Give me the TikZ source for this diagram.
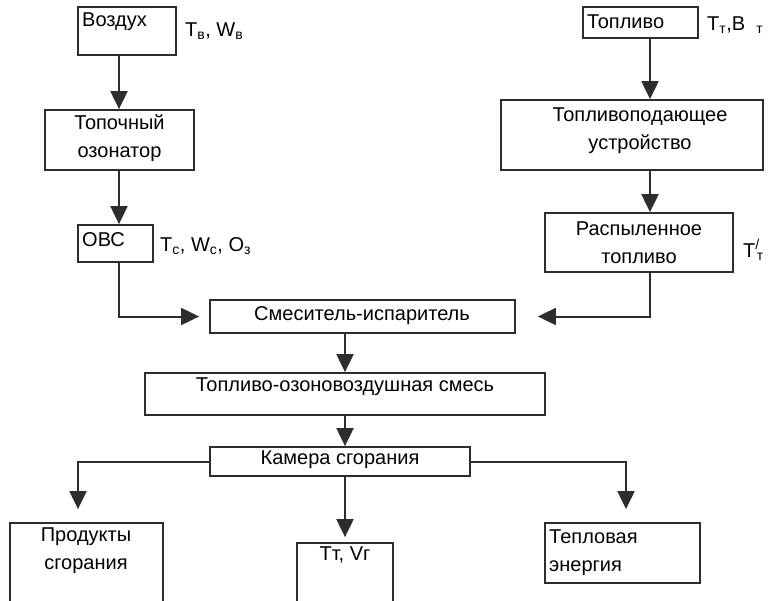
\documentclass[tikz,border=0pt]{standalone}
\usepackage{fontspec}
\setmainfont{Liberation Sans}
\usetikzlibrary{arrows.meta}
\definecolor{ln}{RGB}{45,45,45}
\begin{document}
\begin{tikzpicture}[x=1pt,y=-1pt,
 box/.style={draw=ln, line width=1.8pt, fill=white, inner sep=0pt},
 con/.style={draw=ln, line width=2pt},
 arr/.style={con, -{Triangle[length=18pt,width=17pt]}},
 txt/.style={font=\fontsize{20}{28}\selectfont, text=black, inner sep=0pt, align=center},
 txtl/.style={txt, align=left, anchor=west},
]
\useasboundingbox[fill=white] (0,0) rectangle (768,600);

% boxes
\node[box, minimum width=98pt,  minimum height=48pt] (vozd)   at (127,31) {};
\node[box, minimum width=115pt, minimum height=31pt] (topl)   at (640.5,22.5) {};
\node[box, minimum width=149pt, minimum height=60pt] (ozon)   at (119.5,140) {};
\node[box, minimum width=262pt, minimum height=70pt] (podach) at (632,135) {};
\node[box, minimum width=75pt,  minimum height=37pt] (ovc)    at (115.5,243.5) {};
\node[box, minimum width=188pt, minimum height=59pt] (rasp)   at (639,242.5) {};
\node[box, minimum width=305pt, minimum height=33pt] (mix)    at (362.5,316.5) {};
\node[box, minimum width=400pt, minimum height=42pt] (smes)   at (345,394) {};
\node[box, minimum width=260pt, minimum height=29pt] (kam)    at (340,461.5) {};
\node[box, minimum width=153pt, minimum height=79pt] (prod)   at (86.5,562.5) {};
\node[box, minimum width=96pt,  minimum height=59pt] (ttvr)   at (345,572.5) {};
\node[box, minimum width=155pt, minimum height=60pt] (tepl)   at (622.5,553) {};

% texts in boxes
\node[txtl] (vozdT) at (82,22) {Воздух};
\node[txtl] (toplT) at (587,22) {Топливо};
\node[txt] (ozonT) at (119.5,138) {Топочный\\озонатор};
\node[txt] (podachT) at (640,131) {Топливоподающее\\устройство};
\node[txtl] (ovcT) at (82,240) {ОВС};
\node[txt] (raspT) at (639,243) {Распыленное\\топливо};
\node[txt] (mixT) at (362,316) {Смеситель-испаритель};
\node[txt] (smesT) at (345,387) {Топливо-озоновоздушная смесь};
\node[txt] (kamT) at (340,460) {Камера сгорания};
\node[txt] (prodT) at (86,551) {Продукты\\сгорания};
\node[txt] (ttvrT) at (345,555) {Тт, Vг};
\node[txtl] (teplT) at (549,553) {Тепловая\\энергия};

% side labels
\node[txtl] (lab1) at (185,31) {T\textsubscript{в}, W\textsubscript{в}};
\node[txtl] (lab2) at (707,25) {T\textsubscript{т},B\ \ \textsubscript{т}};
\node[txtl] (lab3) at (160,246) {T\textsubscript{с}, W\textsubscript{с}, O\textsubscript{з}};
\node[txtl] (lab4) at (743,250) {T\textsuperscript{/}\kern-3pt\textsubscript{т}};

% connectors
\coordinate (cl) at (119,0);
\coordinate (cr) at (650,0);
\coordinate (bl) at (78,0);
\coordinate (br) at (626,0);
\draw[arr] (cl |- vozd.south) -- (cl |- ozon.north);
\draw[arr] (cr |- topl.south) -- (cr |- podach.north);
\draw[arr] (cl |- ozon.south) -- (cl |- ovc.north);
\draw[arr] (cr |- podach.south) -- (cr |- rasp.north);
\draw[arr, shorten >=10pt] (cl |- ovc.south) |- (mix.west);
\draw[arr, shorten >=22pt] (cr |- rasp.south) |- (mix.east);
\draw[arr] (smes.north |- mix.south) -- (smes.north);
\draw[arr] (smes.south) -- (smes.south |- kam.north);
\draw[arr, shorten >=13pt] (kam.west) -| (bl |- prod.north);
\draw[arr, shorten >=13pt] (kam.east) -| (br |- tepl.north);
\draw[arr, shorten >=5pt] (ttvr.north |- kam.south) -- (ttvr.north);
\end{tikzpicture}
\end{document}
